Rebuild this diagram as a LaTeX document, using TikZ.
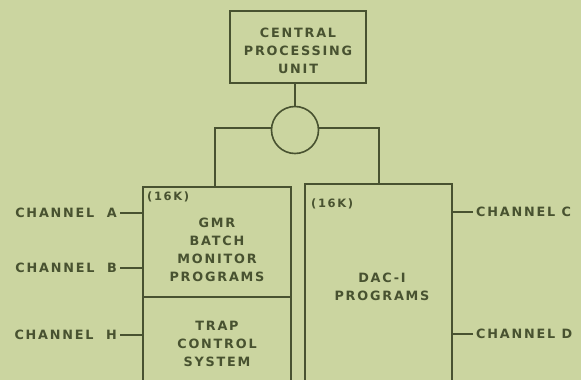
\documentclass[tikz,border=0pt]{standalone}
\usepackage{fontspec}
\setmainfont{DejaVu Sans}[LetterSpace=14]
\definecolor{bg}{RGB}{203,213,160}
\definecolor{ink}{RGB}{72,82,48}
\begin{document}
\begin{tikzpicture}[x=1pt,y=-1pt,
  every node/.style={text=ink, font=\fontsize{12.8}{18}\selectfont\bfseries},
  box/.style={draw=ink, line width=1.6pt, inner sep=0pt},
  wire/.style={draw=ink, line width=1.6pt},
  lbl/.style={align=center, inner sep=0pt},
  small/.style={font=\fontsize{11.5}{18}\selectfont\bfseries}]
\fill[bg] (0,0) rectangle (581,380);
\useasboundingbox (0,0) rectangle (581,380);
% CPU
\node[box, minimum width=136pt, minimum height=72pt] (cpu) at (298,47) {};
\node[lbl] (cput) at (298,51) {CENTRAL\\PROCESSING\\UNIT};
% switch circle
\node[box, circle, minimum size=47pt] (sw) at (295,130) {};
% left boxes
\node[box, minimum width=148pt, minimum height=110pt] (gmr) at (217,242) {};
\node[box, minimum width=148pt, minimum height=90pt] (trap) at (217,342) {};
\node[lbl] (gmrt) at (217,250) {GMR\\BATCH\\MONITOR\\PROGRAMS};
\node[lbl, small, anchor=north west] (k1) at (147,192) {(16K)};
\node[lbl] (trapt) at (217,344) {TRAP\\CONTROL\\SYSTEM};
% right box
\node[box, minimum width=147pt, minimum height=200pt] (dac) at (378.5,284) {};
\node[lbl, small, anchor=north west] (k2) at (311,199) {(16K)};
\node[lbl] (dact) at (382,287) {DAC-I\\PROGRAMS};
% connectors
\coordinate (lt) at (215,128);
\coordinate (rt) at (379,128);
\draw[wire] (sw.north) -- (sw.north |- cpu.south);
\draw[wire] (sw.west |- lt) -- (lt) -- (lt |- gmr.north);
\draw[wire] (sw.east |- rt) -- (rt) -- (rt |- dac.north);
% channels left
\node[lbl, anchor=east] (cha) at (117,213) {CHANNEL\ \ A};
\node[lbl, anchor=east] (chb) at (117,268) {CHANNEL\ \ B};
\node[lbl, anchor=east] (chh) at (117,335) {CHANNEL\ \ H};
\draw[wire] (cha.east) ++(3,0) -- (cha.east -| gmr.west);
\draw[wire] (chb.east) ++(3,0) -- (chb.east -| gmr.west);
\draw[wire] (chh.east) ++(3,0) -- (chh.east -| trap.west);
% channels right
\node[lbl, anchor=west] (chc) at (476,212) {CHANNEL C};
\node[lbl, anchor=west] (chd) at (476,334) {CHANNEL D};
\draw[wire] (chc.west) ++(-3,0) -- (chc.west -| dac.east);
\draw[wire] (chd.west) ++(-3,0) -- (chd.west -| dac.east);
\end{tikzpicture}
\end{document}
